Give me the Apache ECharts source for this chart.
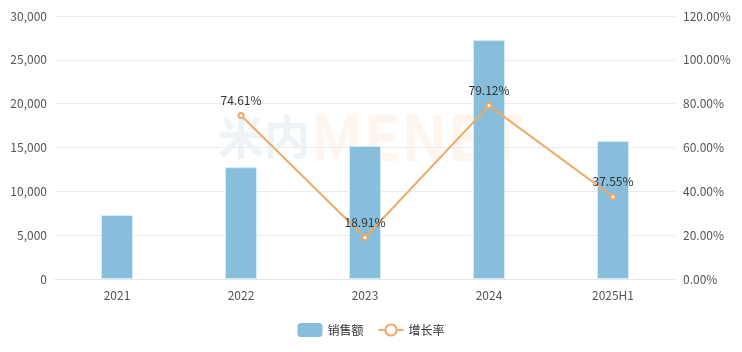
<!DOCTYPE html>
<html lang="zh">
<head>
  <meta charset="UTF-8" />
  <title>销售额与增长率</title>
  <script src="https://cdn.jsdelivr.net/npm/echarts@6/dist/echarts.min.js"></script>
  <style>
    html, body { margin: 0; padding: 0; background: #fff; }
    #chart { width: 742px; height: 352px; }
  </style>
</head>
<body>
  <div id="chart"></div>
  <script>
    const years = ['2021', '2022', '2023', '2024', '2025H1'];
    const sales = [7300, 12750, 15180, 27250, 15750];
    const growth = [null, 74.61, 18.91, 79.12, 37.55];

    const chart = echarts.init(document.getElementById('chart'));
    const font = '"Microsoft YaHei", "Noto Sans CJK SC", sans-serif';

    chart.setOption({
      textStyle: { fontFamily: font },
      // faint watermark
      graphic: [{
        type: 'text',
        left: 218,
        top: 114,
        z: 0,
        style: {
          text: '米内',
          font: 'bold 46px ' + font,
          fill: 'rgba(215, 228, 236, 0.45)'
        }
      }, {
        type: 'text',
        left: 310,
        top: 106,
        z: 0,
        style: {
          text: 'MENET',
          font: 'bold 62px ' + font,
          fill: 'rgba(252, 232, 218, 0.45)'
        }
      }],
      grid: { left: 55, right: 67, top: 16, bottom: 73 },
      legend: {
        bottom: 10,
        itemGap: 14,
        textStyle: { color: '#333', fontSize: 12 },
        data: [
          { name: '销售额', icon: 'roundRect', itemStyle: { borderWidth: 0 } },
          { name: '增长率' }
        ],
        itemWidth: 25,
        itemHeight: 14
      },
      xAxis: {
        type: 'category',
        data: years,
        axisLine: { lineStyle: { color: '#e6e6e6' } },
        axisTick: { show: false },
        axisLabel: { color: '#555', fontSize: 12, margin: 10 }
      },
      yAxis: [{
        type: 'value',
        min: 0, max: 30000, interval: 5000,
        axisLine: { show: false },
        axisTick: { show: false },
        axisLabel: {
          color: '#555', fontSize: 12, margin: 8,
          formatter: v => v.toLocaleString('en-US')
        },
        splitLine: { lineStyle: { color: '#ebebeb' } }
      }, {
        type: 'value',
        min: 0, max: 120, interval: 20,
        axisLine: { show: false },
        axisTick: { show: false },
        axisLabel: {
          color: '#555', fontSize: 12, margin: 8,
          formatter: v => v.toFixed(2) + '%'
        },
        splitLine: { show: false }
      }],
      series: [{
        name: '销售额',
        type: 'bar',
        data: sales,
        barWidth: 32,
        itemStyle: { color: '#86bedb', borderColor: '#d6ebf5', borderWidth: 1 }
      }, {
        name: '增长率',
        type: 'line',
        yAxisIndex: 1,
        data: growth,
        symbol: 'emptyCircle',
        symbolSize: 5,
        lineStyle: { color: '#eeaa66', width: 2 },
        itemStyle: { color: '#eeaa66', borderWidth: 1.5 },
        label: {
          show: true,
          position: 'top',
          distance: 6,
          color: '#333',
          fontSize: 12,
          formatter: p => p.value.toFixed(2) + '%'
        }
      }]
    });
  </script>
</body>
</html>
